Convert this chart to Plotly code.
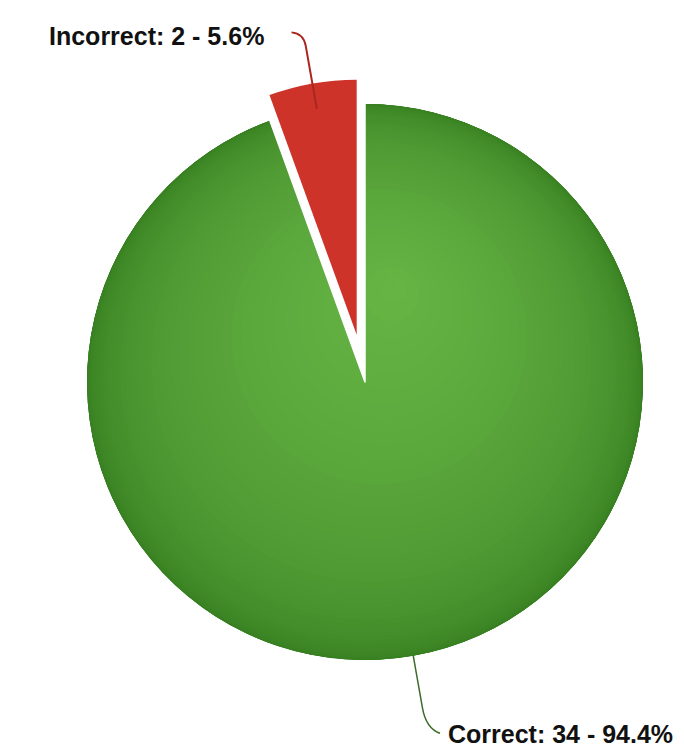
import math
import plotly.graph_objects as go

# ---- data ----
categories = ["Correct", "Incorrect"]
counts = [34, 2]

# ---- style ----
OFF = 8                      # page body margin (px)
W, H = 684 - OFF, 749 - OFF  # figure size so the page is filled exactly
CX, CY = 365.0, 382.0        # pie centre (page px)
R = 278.0                    # pie radius (px)
R_PULLED = 255.0             # radius of the pulled slice
PULL = 48.0 / R_PULLED       # pull fraction of the pulled slice
FX, FY = 395.0, 285.0        # gradient focus (page px)
EDGE_GREEN = (0x35, 0x7c, 0x1f)
CENTER_GREEN = (0x66, 0xb5, 0x45)
RED = "#cd3329"
TRANSPARENT = "rgba(0,0,0,0)"
N_LAYERS = 48
FONT = dict(family="Liberation Sans, Arial", size=25, color="#111111")


def px_x(x):
    return (x - OFF) / W


def px_y(y):
    return 1 - (y - OFF) / H


def dom(cx, cy, half):
    return dict(x=[px_x(cx - half), px_x(cx + half)],
                y=[px_y(cy + half), px_y(cy - half)])


def mix(a, b, t):
    return "rgb(%d,%d,%d)" % tuple(round(a[k] + (b[k] - a[k]) * t) for k in range(3))


common = dict(labels=categories, values=counts, sort=False, direction="clockwise",
              rotation=0, textinfo="none", hoverinfo="skip", showlegend=False)

fig = go.Figure()

# green body drawn as layered discs to imitate a radial gradient
for i in range(N_LAYERS):
    s = i / N_LAYERS
    t = s ** 2.4
    cx = CX + t * (FX - CX)
    cy = CY + t * (FY - CY)
    r = R * (1 - t)
    col = mix(EDGE_GREEN, CENTER_GREEN, s)
    fig.add_trace(go.Pie(marker=dict(colors=[col, col], line=dict(width=0)),
                         domain=dom(cx, cy, r), **common))

# white mask where the pulled slice used to be
fig.add_trace(go.Pie(marker=dict(colors=[TRANSPARENT, "white"],
                                 line=dict(color="white", width=[0, 1.5])),
                     domain=dom(CX, CY, R), **common))

# pulled red slice
fig.add_trace(go.Pie(marker=dict(colors=[TRANSPARENT, RED], line=dict(width=0)),
                     pull=[0, PULL], domain=dom(CX, CY, R_PULLED * (1 + PULL)),
                     **common))

# ---- labels and connectors ----
total = sum(counts)
angles = []
acc = 0
for v in counts:
    angles.append((acc + v / 2) / total * 360.0)
    acc += v


def direction(a):
    return math.sin(math.radians(a)), -math.cos(math.radians(a))


def path(points):
    (x0, y0), (x1, y1), (cx, cy), (x2, y2) = points
    return "M %f %f L %f %f Q %f %f %f %f" % (
        px_x(x0), px_y(y0), px_x(x1), px_y(y1), px_x(cx), px_y(cy), px_x(x2), px_y(y2))


texts = ["<b>%s: %d - %.1f%%</b>" % (c, v, 100.0 * v / total)
         for c, v in zip(categories, counts)]

# Correct (index 0)
dx, dy = direction(angles[0])
p0 = (CX + R * dx, CY + R * dy)
p1 = (CX + 1.19 * R * dx, CY + 1.19 * R * dy)
pc = (CX + 1.265 * R * dx, CY + 1.265 * R * dy)
p2 = (pc[0] + 14, pc[1] + 5)
shapes = [dict(type="path", xref="paper", yref="paper", path=path([p0, p1, pc, p2]),
               line=dict(color="#3d6b2a", width=1.5))]
annotations = [dict(x=px_x(p2[0] + 6), y=px_y(p2[1] + 1), xref="paper", yref="paper",
                    xanchor="left", yanchor="middle", text=texts[0], showarrow=False,
                    font=FONT)]

# Incorrect (index 1)
dx, dy = direction(angles[1])
ax, ay = CX + PULL * R_PULLED * dx, CY + PULL * R_PULLED * dy
q0 = (ax + 0.9 * R_PULLED * dx, ay + 0.9 * R_PULLED * dy)
q1 = (ax + 1.15 * R_PULLED * dx, ay + 1.15 * R_PULLED * dy)
qc = (ax + 1.2 * R_PULLED * dx, ay + 1.2 * R_PULLED * dy)
q2 = (qc[0] - 12, qc[1] - 1)
shapes.append(dict(type="path", xref="paper", yref="paper", path=path([q0, q1, qc, q2]),
                   line=dict(color="#a8281f", width=2)))
annotations.append(dict(x=px_x(q2[0] - 26), y=px_y(q2[1] + 4), xref="paper", yref="paper",
                        xanchor="right", yanchor="middle", text=texts[1], showarrow=False,
                        font=FONT))

fig.update_layout(width=W, height=H, margin=dict(l=0, r=0, t=0, b=0),
                  paper_bgcolor="white", plot_bgcolor="white",
                  shapes=shapes, annotations=annotations)

fig.write_html("out.html")
